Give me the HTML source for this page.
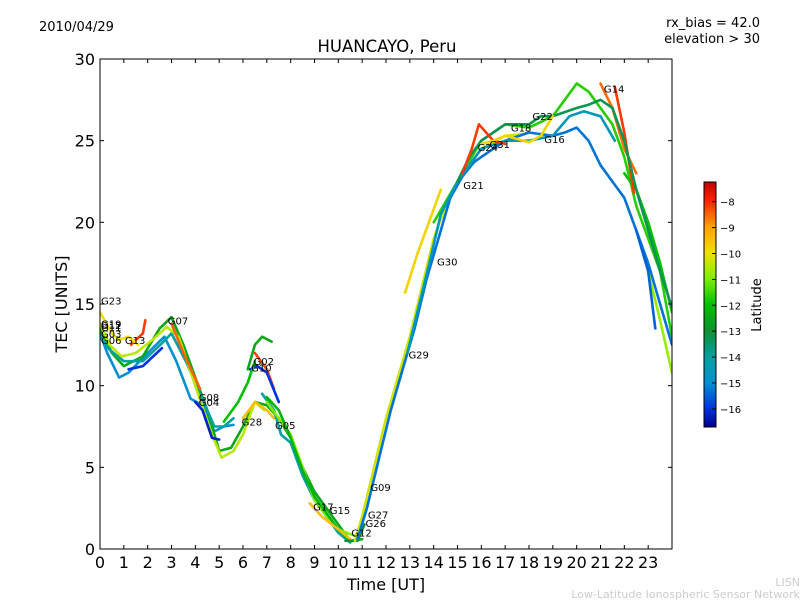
<!DOCTYPE html>
<html><head><meta charset="utf-8"><style>
body{margin:0;background:#fff;}
svg text{font-family:"DejaVu Sans","Liberation Sans",sans-serif;fill:#000;}
</style></head><body>
<svg id="chart" width="800" height="600">
<defs>
<linearGradient id="cb" x1="0" y1="1" x2="0" y2="0">
<stop offset="0" stop-color="#00008b"/><stop offset="0.074" stop-color="#0030e0"/>
<stop offset="0.18" stop-color="#0090d0"/><stop offset="0.287" stop-color="#00a0a0"/>
<stop offset="0.393" stop-color="#109030"/><stop offset="0.5" stop-color="#00c000"/>
<stop offset="0.606" stop-color="#80f000"/><stop offset="0.712" stop-color="#f0e000"/>
<stop offset="0.818" stop-color="#ffa000"/><stop offset="0.925" stop-color="#ff2000"/>
<stop offset="1" stop-color="#c00000"/></linearGradient>
<clipPath id="pc"><rect x="100" y="59" width="572" height="490"/></clipPath>
</defs>
<rect x="0" y="0" width="800" height="600" fill="#fff"/>
<text x="39" y="31" font-size="13">2010/04/29</text>
<text x="760" y="27" font-size="13" text-anchor="end">rx_bias = 42.0</text>
<text x="760" y="43" font-size="13" text-anchor="end">elevation &gt; 30</text>
<text x="387" y="52" font-size="16.5" text-anchor="middle">HUANCAYO, Peru</text>
<g id="marks" clip-path="url(#pc)"></g>
<g id="lbls"></g>
<rect x="100" y="59" width="572" height="490" fill="none" stroke="#000" stroke-width="1"/>
<g id="axes"></g>
<text x="0" y="0" font-size="16" text-anchor="middle" transform="translate(67,304) rotate(-90)">TEC [UNITS]</text>
<text x="386" y="590" font-size="16" text-anchor="middle">Time [UT]</text>
<rect x="704" y="182" width="12" height="245" fill="url(#cb)" stroke="#000" stroke-width="1"/>
<g id="cbt"></g>
<text x="0" y="0" font-size="13" text-anchor="middle" transform="translate(761,305) rotate(-90)">Latitude</text>
<text x="800" y="586" font-size="11" text-anchor="end" style="fill:#ccc">LISN</text>
<text x="800" y="598" font-size="11" text-anchor="end" style="fill:#ccc">Low-Latitude Ionospheric Sensor Network</text>
</svg>
<script>
const xTicks=[0,1,2,3,4,5,6,7,8,9,10,11,12,13,14,15,16,17,18,19,20,21,22,23];
const yTicks=[0,5,10,15,20,25,30];
const cbTicks=[-8,-9,-10,-11,-12,-13,-14,-15,-16];
const trackLat=[-15,-12.5,-14,-10.5,-16,-8.2,-8.5,-10,-16.2,-12.5,-8.3,-16,-12,-9.5,-14,-11,-12.3,-9.5,-13,-10.3,-15.3,-11.7,-8.6,-12,-8.2,-14.5,-9.8,-13.3,-10.8,-15.5,-8.2,-9.8];
const trackT=[
[0,0.3,0.8,1.2,2,2.7,3.2,3.8,4.3,4.8,5.2,5.6],
[0,0.5,1,1.8,2.5,3,3.5,4,4.5,5,5.5,6,6.5,7,7.5,8,8.5,9,9.5,10,10.5],
[0,0.4,1,1.8,2.6,3,3.6,4.2,4.8,5.2,5.6],
[0,0.4,0.9,1.5,2.2,2.8,3.3,4,4.7,5.1,5.6,6,6.5,6.9],
[1.2,1.8,2.6],
[1.3,1.5,1.8,1.9],
[3,3.5,4.2],
[0,0.5,0.8,1.2,1.6],
[4,4.3,4.7,5],
[6.2,6.5,6.8,7.2],
[6.5,7,7.3],
[6.3,6.6,7,7.5],
[5.2,5.8,6.2,6.5],
[6,6.5,7,7.3],
[6.8,7.3,7.6,8,8.5,9,9.5,10,10.5],
[7,8,8.5,9,9.5,10,10.7],
[7,7.5,8,8.5,9,9.5,10,10.5,11],
[8.8,9.3,10,10.5],
[10.3,10.8,11.1],
[10.7,11,11.5,12,12.5,13,13.5,14,14.5,15,15.5,16,17,17.8],
[10.8,11.2,11.7,12.2,12.7,13.2,13.7,14.2,14.7,15.2,15.7,16.2,17,18,19,19.5,20,20.5,21,21.5,22,22.5,23,23.5,24],
[14,15,16,17,18,19,19.5,20,20.5,21,21.5,22,22.5,23,23.5,24],
[21,21.5,22,22.5],
[22,22.5,23,23.5,24],
[21.6,22,22.4],
[12.9,13.4,13.9,14.3,15,15.5,16,17,18,19,19.7,20.3,21,21.6],
[12.8,13.3,13.8,14.3],
[15,15.5,16,16.5,17,17.5,18,18.5,19,20,20.5,21,21.5,22,22.5,23,23.5,24],
[23,23.5,24],
[22.5,23,23.3],
[15.2,15.6,15.9,16.5,17],
[16,16.5,17,17.5,18,18.5,19]
];
const trackV=[
[13.2,12,10.5,10.8,12,13,11.5,9.2,8.8,7.2,7.5,7.6],
[13.5,12,11.2,11.8,13.5,14.2,12.5,10.5,8.5,6,6.2,7.5,9,8.8,8,6.8,5,3.5,2.5,1.5,0.5],
[13,12.2,11.5,11.5,12.6,13.2,11.5,9.5,7.5,7.5,8],
[13.8,12.5,11.8,12,12.8,13.6,13,10,7,5.6,6,7,9,8.5],
[11,11.2,12.3],
[12.5,12.8,13.2,14],
[13.8,12,9.8],
[14.5,13.2,12.8,13,12.5],
[9,8.5,6.8,6.7],
[11,12.5,13,12.7],
[12,11,9.8],
[11,11.2,10.8,9],
[7.8,9,10.2,11.5],
[8,9,8.5,8],
[9.5,8.5,7,6.5,4.5,3,2,1,0.4],
[9,7,5,3,2,1.2,0.8],
[9.3,8.5,6.8,4.8,3.2,2.2,1.2,0.5,0.6],
[2.8,2,1.2,0.6],
[0.5,0.5,1.5],
[0.5,2,5,8,10.5,13,16,19,21,22.5,23.5,24.5,25.3,25.4],
[0.6,2.5,5.5,8.5,11,13.5,16.5,19,21.5,22.8,23.7,24.2,25,25.5,25.3,25.5,25.8,25,23.5,22.5,21.5,19.5,17.5,15,12.5],
[20,22.5,25,26,25.8,26.5,27.5,28.5,28,27,26,24,21,19,17,13],
[28.5,27,24.5,23],
[23,22,20,17.5,14.5],
[28.3,25.5,21.8],
[12,15,18,20.5,22.5,23.5,24.5,25,25,25.3,26.5,26.8,26.5,25],
[15.7,18,20,22],
[22.5,24,25,25.5,26,26,26,26.5,26.5,27,27.2,27.5,27,25,22,19.5,17,14.8],
[17,14,10.8],
[19.5,17,13.5],
[23,24.5,26,25,24.8],
[24.8,25,25.3,25.1,24.9,25.3,26.5]
];
const labelText=["G23","G19","G12","G11","G03","G06","G13","G07","G08","G04","G02","G10","G28","G05","G17","G15","G12","G26","G27","G09","G29","G30","G21","G24","G31","G18","G22","G16","G14"];
const labelT=[0,0,0,0,0,0,1,2.8,4.1,4.1,6.4,6.3,5.9,7.3,8.9,9.6,10.5,11.1,11.2,11.3,12.9,14.1,15.2,15.8,16.3,17.2,18.1,18.6,21.1];
const labelV=[15.2,13.8,13.7,13.6,13.2,12.8,12.8,14,9.3,9,11.5,11.1,7.8,7.6,2.6,2.4,1,1.6,2.1,3.8,11.9,17.6,22.3,24.6,24.8,25.8,26.5,25.1,28.2];

const X0=100,X1=672,Y0=549,Y1=59;
const xs=t=>X0+t/24*(X1-X0);
const ys=v=>Y0-v/30*(Y0-Y1);
const cbY=l=>182+(-7.24-l)/(9.46)*245;
const stops=[[-16.7,[0,0,139]],[-16,[0,48,224]],[-15,[0,144,208]],[-14,[0,160,160]],[-13,[16,144,48]],[-12,[0,192,0]],[-11,[128,240,0]],[-10,[240,224,0]],[-9,[255,160,0]],[-8,[255,32,0]],[-7.24,[192,0,0]]];
function col(l){for(let i=0;i<stops.length-1;i++){const a=stops[i],b=stops[i+1];if(l<=b[0]||i==stops.length-2){let f=Math.max(0,Math.min(1,(l-a[0])/(b[0]-a[0])));return 'rgb('+a[1].map((c,k)=>Math.round(c+(b[1][k]-c)*f)).join(',')+')';}}}
const NS='http://www.w3.org/2000/svg';
function mk(tag,at,parent){const e=document.createElementNS(NS,tag);for(const k in at)e.setAttribute(k,at[k]);parent.appendChild(e);return e;}
const marks=document.getElementById('marks');
trackT.forEach((ts,i)=>{
 const p=mk('polyline',{points:ts.map((t,j)=>xs(t).toFixed(1)+','+ys(trackV[i][j]).toFixed(1)).join(' '),fill:'none',stroke:col(trackLat[i]),'stroke-width':2.6,'stroke-linejoin':'round','stroke-linecap':'round'},marks);
 
 
});
const lb=document.getElementById('lbls');
labelText.forEach((s,i)=>{
 const t=mk('text',{x:xs(labelT[i])+1,y:ys(labelV[i])+4,'font-size':10},lb);t.textContent=s;
 
 
});
const ax=document.getElementById('axes');
xTicks.forEach(t=>{
 mk('line',{x1:xs(t),x2:xs(t),y1:Y0,y2:Y0-4,stroke:'#000'},ax);
 mk('line',{x1:xs(t),x2:xs(t),y1:Y1,y2:Y1+4,stroke:'#000'},ax);
 const e=mk('text',{x:xs(t),y:568,'font-size':16,'text-anchor':'middle'},ax);e.textContent=t;
 
 
});
yTicks.forEach(v=>{
 mk('line',{x1:X0,x2:X0+4,y1:ys(v),y2:ys(v),stroke:'#000'},ax);
 mk('line',{x1:X1,x2:X1-4,y1:ys(v),y2:ys(v),stroke:'#000'},ax);
 const e=mk('text',{x:95,y:ys(v)+6,'font-size':16,'text-anchor':'end'},ax);e.textContent=v;
 
 
});
const cbt=document.getElementById('cbt');
cbTicks.forEach(l=>{
 mk('line',{x1:712,x2:716,y1:cbY(l),y2:cbY(l),stroke:'#000'},cbt);
 const e=mk('text',{x:720,y:cbY(l)+4,'font-size':10},cbt);e.textContent='\u2212'+Math.abs(l);
 
 
});
</script>
</body></html>
